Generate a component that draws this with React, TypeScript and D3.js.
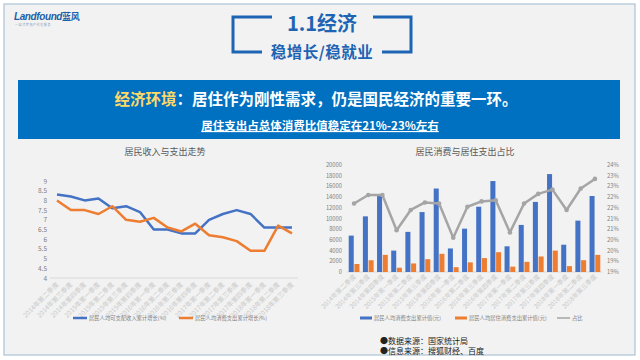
import React from 'react';
import * as d3 from 'd3';

// quarters shared by both charts
const quarters = [
  '2014年第二季度', '2014年第三季度', '2014年第四季度', '2015年第一季度',
  '2015年第二季度', '2015年第三季度', '2015年第四季度', '2016年第一季度',
  '2016年第二季度', '2016年第三季度', '2016年第四季度', '2017年第一季度',
  '2017年第二季度', '2017年第三季度', '2017年第四季度', '2018年第一季度',
  '2018年第二季度', '2018年第三季度'
];

// left chart: cumulative growth (%)
const incomeGrowth = [8.3, 8.2, 8.0, 8.1, 7.6, 7.7, 7.4, 6.5, 6.5, 6.3, 6.3, 7.0, 7.3, 7.5, 7.3, 6.6, 6.6, 6.6];
const spendGrowth = [8.0, 7.5, 7.5, 7.3, 7.7, 7.0, 6.9, 7.1, 6.6, 6.4, 6.8, 6.2, 6.1, 5.9, 5.4, 5.4, 6.7, 6.3];
const growthTicks = [4, 4.5, 5, 5.5, 6, 6.5, 7, 7.5, 8, 8.5, 9];

// right chart: cumulative values (元) and housing share (%)
const consumption = [6800, 10400, 14300, 4000, 7500, 11200, 15600, 4400, 8100, 12200, 17000, 4800, 8800, 13100, 18300, 5100, 9600, 14200];
const housing = [1500, 2200, 3200, 800, 1600, 2400, 3400, 900, 1800, 2600, 3700, 1000, 1900, 2900, 4000, 1100, 2200, 3200];
const housingShare = [21.7, 22.1, 22.1, 20.45, 21.4, 21.75, 21.7, 20.1, 21.55, 21.8, 21.85, 20.35, 21.7, 22.15, 22.35, 21.4, 22.4, 22.85];
const valueTicks = [0, 2000, 4000, 6000, 8000, 10000, 12000, 14000, 16000, 18000, 20000];
const shareTicks = [18.5, 19, 19.5, 20, 20.5, 21, 21.5, 22, 22.5, 23, 23.5];

const BLUE = '#4472c4';
const ORANGE = '#ed7d31';
const GREY = '#a5a5a5';
const FONT = '"Noto Sans CJK SC", "Noto Sans", sans-serif';

const LeftChart = () => {
  const x = d3.scalePoint<string>().domain(quarters).range([57, 292]);
  const y = d3.scaleLinear().domain([4, 9]).range([278, 181]);
  const line = d3.line<number>().x((d, i) => x(quarters[i])!).y((d) => y(d));

  return (
    <g>
      <text x={165} y={155} textAnchor="middle" fontSize={9} fill="#595959">居民收入与支出走势</text>
      {growthTicks.map((t) => (
        <text key={t} x={47} y={y(t) + 2.5} textAnchor="end" fontSize={6.5} fill="#7f7f7f">{t}</text>
      ))}
      <line x1={50} x2={298} y1={y(4)} y2={y(4)} stroke="#d9d9d9" strokeWidth={1} />
      <path d={line(incomeGrowth)!} fill="none" stroke={BLUE} strokeWidth={2.5} strokeLinejoin="round" />
      <path d={line(spendGrowth)!} fill="none" stroke={ORANGE} strokeWidth={2.5} strokeLinejoin="round" />
      {quarters.map((q) => (
        <text key={q} transform={`translate(${x(q)! + 2},${285}) rotate(-45)`} textAnchor="end"
          fontSize={6.5} fill="#c8c8c8">{q}</text>
      ))}
      <line x1={73} x2={87} y1={318} y2={318} stroke={BLUE} strokeWidth={2.5} />
      <text x={89} y={320} fontSize={5.3} fill="#7f7f7f">居民人均可支配收入累计增长(%)</text>
      <line x1={179} x2={193} y1={318} y2={318} stroke={ORANGE} strokeWidth={2.5} />
      <text x={195} y={320} fontSize={5.3} fill="#7f7f7f">居民人均消费支出累计增长(%)</text>
    </g>
  );
};

const RightChart = () => {
  const x = d3.scaleBand<string>().domain(quarters).range([347, 602]);
  const inner = d3.scaleBand<string>().domain(['c', 'h']).range([0, x.bandwidth()]).paddingInner(0.12).paddingOuter(0.3);
  const y = d3.scaleLinear().domain([0, 20000]).range([272, 165]);
  const y2 = d3.scaleLinear().domain([18.5, 23.5]).range([272, 165]);
  const cx = (i: number) => x(quarters[i])! + x.bandwidth() / 2;
  const line = d3.line<number>().x((d, i) => cx(i)).y((d) => y2(d));

  return (
    <g>
      <text x={465} y={155} textAnchor="middle" fontSize={9} fill="#595959">居民消费与居住支出占比</text>
      {valueTicks.map((t) => (
        <text key={t} x={342} y={y(t) + 2} textAnchor="end" fontSize={5.8} fill="#7f7f7f">{t}</text>
      ))}
      {shareTicks.map((t) => (
        <text key={t} x={607} y={y2(t) + 2} fontSize={5.8} fill="#7f7f7f">{Math.round(t)}%</text>
      ))}
      <line x1={347} x2={602} y1={272} y2={272} stroke="#d9d9d9" strokeWidth={1} />
      {quarters.map((q, i) => (
        <g key={q}>
          <rect x={x(q)! + inner('c')!} y={y(consumption[i])} width={inner.bandwidth()}
            height={y(0) - y(consumption[i])} fill={BLUE} />
          <rect x={x(q)! + inner('h')!} y={y(housing[i])} width={inner.bandwidth()}
            height={y(0) - y(housing[i])} fill={ORANGE} />
          <text transform={`translate(${cx(i) + 2},${277}) rotate(-45)`} textAnchor="end"
            fontSize={6.3} fill="#c8c8c8">{q}</text>
        </g>
      ))}
      <path d={line(housingShare)!} fill="none" stroke={GREY} strokeWidth={2.5} strokeLinejoin="round" />
      {housingShare.map((v, i) => (
        <circle key={i} cx={cx(i)} cy={y2(v)} r={2.3} fill={GREY} />
      ))}
      <rect x={360} y={316.5} width={12} height={3} fill={BLUE} />
      <text x={374} y={320} fontSize={5.3} fill="#7f7f7f">居民人均消费支出累计值(元)</text>
      <rect x={455} y={316.5} width={12} height={3} fill={ORANGE} />
      <text x={469} y={320} fontSize={5.3} fill="#7f7f7f">居民人均居住消费支出累计值(元)</text>
      <line x1={557} x2={570} y1={318} y2={318} stroke={GREY} strokeWidth={1.5} />
      <text x={572} y={320} fontSize={5.3} fill="#7f7f7f">占比</text>
    </g>
  );
};

const App = () => {
  return (
    <svg width={640} height={360} style={{ position: 'absolute', left: 0, top: 0, fontFamily: FONT }}>
      <rect x={0} y={0} width={640} height={360} fill="#ffffff" />
      <rect x={4} y={4} width={631} height={351} fill="#f2f2f2" stroke="#aac3d6" strokeWidth={1.2} />

      {/* logo */}
      <text x={14} y={20} fontSize={10} fontWeight={700} fontStyle="italic" fill="#1e5fa8"
        fontFamily="'Liberation Sans', sans-serif" letterSpacing={-0.4}>Landfound<tspan fontFamily={FONT} fontStyle="normal" fontSize={9}>蓝风</tspan></text>
      <text x={15} y={26} fontSize={3} fill="#7f9cc0" letterSpacing={0.6}>一站式房地产代理服务</text>

      {/* title brackets */}
      <path d="M272,17 H233 V52 H262" fill="none" stroke="#1e64b4" strokeWidth={3} />
      <path d="M373,17 H411 V52 H382" fill="none" stroke="#1e64b4" strokeWidth={3} />
      <text x={322} y={31} textAnchor="middle" fontSize={20} fontWeight={700} fill="#1e64b4">1.1经济</text>
      <text x={322} y={58} textAnchor="middle" fontSize={15.5} fontWeight={700} fill="#1e64b4" letterSpacing={0.5}>稳增长/稳就业</text>

      {/* banner */}
      <rect x={18} y={80} width={602} height={59} fill="#0070c0" />
      <text x={316} y={105} textAnchor="middle" fontSize={15.5} fontWeight={700} fill="#ffffff">
        <tspan fill="#ffd966">经济环境</tspan>：居住作为刚性需求，仍是国民经济的重要一环。
      </text>
      <text x={320} y={130} textAnchor="middle" fontSize={11.5} fontWeight={700} fill="#ffffff" textDecoration="underline">
        居住支出占总体消费比值稳定在21%-23%左右
      </text>

      <LeftChart />
      <RightChart />

      <text x={380} y={343.5} fontSize={8} fill="#222222">●数据来源：国家统计局</text>
      <text x={380} y={353.5} fontSize={8} fill="#222222">●信息来源：搜狐财经、百度</text>
    </svg>
  );
};

export default App;
